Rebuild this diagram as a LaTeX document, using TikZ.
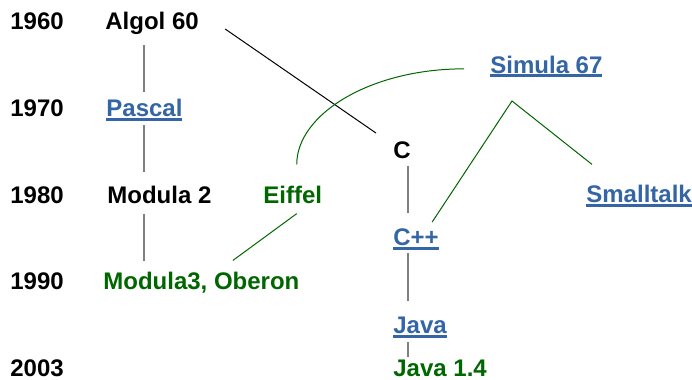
\documentclass[tikz,border=0pt]{standalone}
\usepackage{fontspec}
\setmainfont{Liberation Sans}
\usepackage{tikz}
\usetikzlibrary{positioning,calc}
\definecolor{linkblue}{RGB}{52,101,164}
\definecolor{darkgreen}{RGB}{0,102,0}
\definecolor{stemgray}{RGB}{128,128,128}
\newcommand{\lnk}[1]{{\color{linkblue}\setbox0=\hbox{#1}\rlap{\rule[-2.25pt]{\wd0}{1.5pt}}\box0}}

\begin{document}
\begin{tikzpicture}[x=0.5pt, y=-0.5pt,
            every node/.style={inner sep=0pt, anchor=base west, font=\fontsize{12}{14}\selectfont\bfseries},
            year/.style={text=black},
            lang/.style={text=black},
            newlang/.style={text=darkgreen},
            stem/.style={line width=1pt, stemgray},
            infl/.style={line width=0.5pt, darkgreen},
            heir/.style={line width=0.5pt, black}
        ]
        \useasboundingbox (0,0) rectangle (692,380);
        \node[year] (y60) at (10,30) {1960};
        \node[year] (y70) at (10,116.5) {1970};
        \node[year] (y80) at (10,203) {1980};
        \node[year] (y90) at (10,289.5) {1990};
        \node[year] (y03) at (10,376) {2003};

        \node[lang] (algol) at (105,30) {Algol 60};
        \node[lang] (pascal) at (106,116.5) {\lnk{Pascal}};
        \node[lang] (modula2) at (107,203) {Modula 2};
        \node[newlang] (modula3) at (103,289.5) {Modula3, Oberon};
        \node[newlang] (eiffel) at (263,203) {Eiffel};
        \node[lang] (c) at (393,158) {C};
        \node[lang] (cpp) at (393,245) {\lnk{C++}};
        \node[lang] (java) at (393,333) {\lnk{Java}};
        \node[newlang] (java14) at (393,376) {Java 1.4};
        \node[lang] (simula) at (490,73) {\lnk{Simula 67}};
        \node[lang] (smalltalk) at (586,202) {\lnk{Smalltalk}};
        \coordinate (cstem) at (408,0);
        \coordinate (fork) at (512,101);

        \draw[stem, shorten <=5pt, shorten >=3.15pt] (algol.south -| pascal) -- (pascal.north);
        \draw[stem, shorten <=2pt, shorten >=6.4pt] (pascal.south) -- (modula2.north -| pascal);
        \draw[stem, shorten <=5pt, shorten >=5.15pt] (modula2.south -| pascal) -- (modula3.north -| pascal);
        \draw[stem, shorten <=3.5pt, shorten >=7.4pt] (c.south -| cstem) -- (cpp.north -| cstem);
        \draw[stem, shorten <=1.75pt, shorten >=7.4pt] (cpp.south -| cstem) -- (java.north -| cstem);
        \draw[stem, shorten <=2.25pt, shorten >=0.9pt] (java.south -| cstem) -- (java14.north -| cstem);

        \draw[heir] ([xshift=13pt, yshift=0.5pt]algol.base east) -- ([xshift=-8.5pt, yshift=3.9pt]c.north west);
        \draw[infl] ([xshift=2pt, yshift=-5pt]eiffel.south) -- ([xshift=15.75pt, yshift=5.65pt]modula3.north);
        \draw[infl] ([xshift=-13pt, yshift=-1.15pt]simula.west) .. controls +(-94,0) and +(0,-50) .. ([xshift=2pt, yshift=10.4pt]eiffel.north);
        \draw[infl] ([xshift=-3.5pt, yshift=2.9pt]cpp.north east) -- (fork) -- ([xshift=3pt, yshift=9.9pt]smalltalk.north west);
        \end{tikzpicture}
\end{document}
